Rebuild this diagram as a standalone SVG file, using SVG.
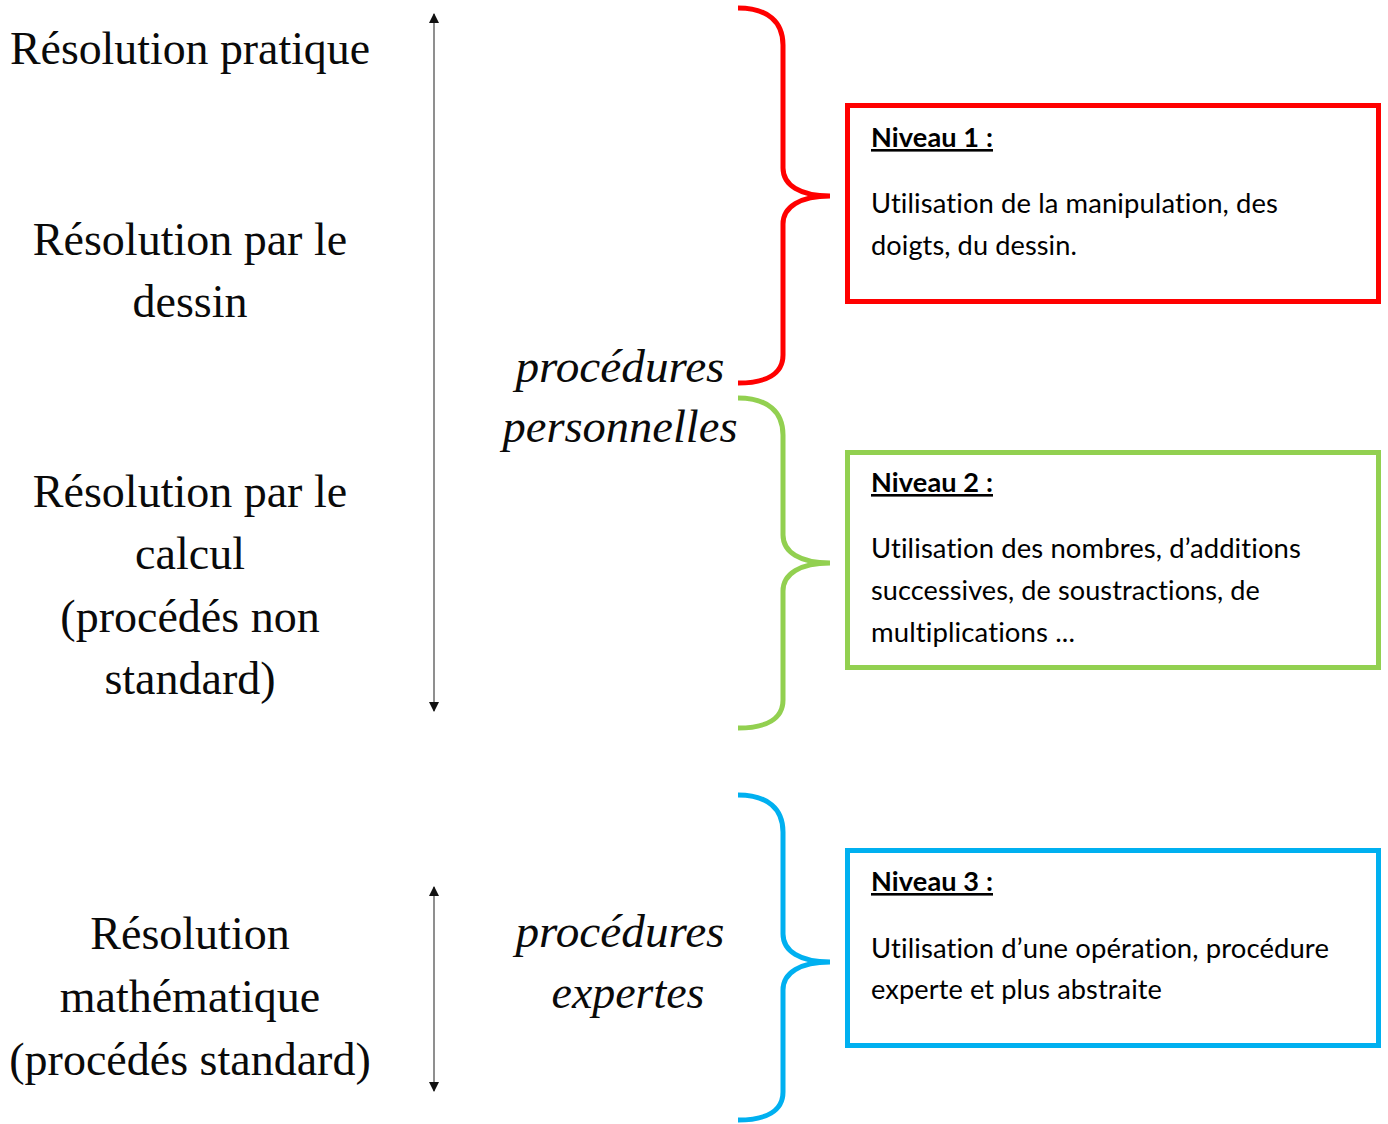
<svg xmlns="http://www.w3.org/2000/svg" width="1388" height="1124" viewBox="0 0 1388 1124">
<style>
.lbl{font-family:"Liberation Serif","Times New Roman",serif;font-size:46px;fill:#0a0a0a;text-anchor:middle}
.it{font-family:"Liberation Serif","Times New Roman",serif;font-style:italic;font-size:47px;fill:#0a0a0a;text-anchor:middle}
.hd{font-family:Lato,"Open Sans",sans-serif;font-weight:bold;font-size:26px;fill:#000;text-decoration:underline;font-variant-ligatures:none;font-feature-settings:"liga" 0,"clig" 0,"dlig" 0;letter-spacing:0.1px}
.bd{font-family:Lato,"Open Sans",sans-serif;font-size:26px;fill:#000;font-variant-ligatures:none;font-feature-settings:"liga" 0,"clig" 0,"dlig" 0;letter-spacing:0.1px}
.brace{fill:none;stroke-width:5;stroke-linecap:butt}
.box{fill:#fff;stroke-width:5}
.axis{stroke:#8f8f8f;stroke-width:2;fill:none}
</style>
<defs>
<marker id="ah" viewBox="0 0 10 10" refX="9" refY="5" markerWidth="6" markerHeight="5" orient="auto-start-reverse" markerUnits="strokeWidth">
<path d="M0,0 L10,5 L0,10 Z" fill="#111"/>
</marker>
</defs>
<rect width="1388" height="1124" fill="#fff"/>

<g id="connectors">
<line class="axis" x1="434" y1="14" x2="434" y2="711" marker-start="url(#ah)" marker-end="url(#ah)"/>
<line class="axis" x1="434" y1="887" x2="434" y2="1091" marker-start="url(#ah)" marker-end="url(#ah)"/>
<path class="brace" stroke="#ff0000" d="M738,8 C768,8 783,22 783,45 L783,168 C783,185 800,196 830,196 C800,196 783,207 783,224 L783,355 C783,374 766,383 738,383"/>
<path class="brace" stroke="#92d050" d="M738,398 C768,398 783,412 783,435 L783,535 C783,552 800,563 830,563 C800,563 783,574 783,591 L783,700 C783,719 766,728 738,728"/>
<path class="brace" stroke="#00b0f0" d="M738,795 C768,795 783,809 783,832 L783,934 C783,951 800,962 830,962 C800,962 783,973 783,990 L783,1092 C783,1111 766,1120 738,1120"/>
</g>

<g id="left-pratique"><text class="lbl" x="190" y="64" textLength="360" lengthAdjust="spacingAndGlyphs">Résolution pratique</text></g>
<g id="left-dessin">
<text class="lbl" x="190" y="255">Résolution par le</text>
<text class="lbl" x="190" y="317">dessin</text>
</g>
<g id="left-calcul">
<text class="lbl" x="190" y="507">Résolution par le</text>
<text class="lbl" x="190" y="569">calcul</text>
<text class="lbl" x="190" y="632">(procédés non</text>
<text class="lbl" x="190" y="694">standard)</text>
</g>
<g id="left-math">
<text class="lbl" x="190" y="949">Résolution</text>
<text class="lbl" x="190" y="1012">mathématique</text>
<text class="lbl" x="190" y="1075">(procédés standard)</text>
</g>

<g id="proc-perso">
<text class="it" x="620" y="382" textLength="209" lengthAdjust="spacingAndGlyphs">procédures</text>
<text class="it" x="620" y="442" textLength="235" lengthAdjust="spacingAndGlyphs">personnelles</text>
</g>
<g id="proc-expertes">
<text class="it" x="620" y="947" textLength="209" lengthAdjust="spacingAndGlyphs">procédures</text>
<text class="it" x="628" y="1008" textLength="153" lengthAdjust="spacingAndGlyphs">expertes</text>
</g>

<g id="niveau1">
<rect class="box" stroke="#ff0000" x="847.5" y="105.5" width="531" height="196"/>
<text class="hd" x="871" y="147" textLength="122" lengthAdjust="spacingAndGlyphs">Niveau 1 :</text>
<text class="bd" x="871" y="213" textLength="407" lengthAdjust="spacingAndGlyphs">Utilisation de la manipulation, des</text>
<text class="bd" x="871" y="255" textLength="206" lengthAdjust="spacingAndGlyphs">doigts, du dessin.</text>
</g>
<g id="niveau2">
<rect class="box" stroke="#92d050" x="847.5" y="452.5" width="531" height="215"/>
<text class="hd" x="871" y="492" textLength="122" lengthAdjust="spacingAndGlyphs">Niveau 2 :</text>
<text class="bd" x="871" y="558" textLength="430" lengthAdjust="spacingAndGlyphs">Utilisation des nombres, d’additions</text>
<text class="bd" x="871" y="600" textLength="389" lengthAdjust="spacingAndGlyphs">successives, de soustractions, de</text>
<text class="bd" x="871" y="642" textLength="204" lengthAdjust="spacingAndGlyphs">multiplications ...</text>
</g>
<g id="niveau3">
<rect class="box" stroke="#00b0f0" x="847.5" y="850.5" width="531" height="195"/>
<text class="hd" x="871" y="891" textLength="122" lengthAdjust="spacingAndGlyphs">Niveau 3 :</text>
<text class="bd" x="871" y="958" textLength="458" lengthAdjust="spacingAndGlyphs">Utilisation d’une opération, procédure</text>
<text class="bd" x="871" y="999" textLength="291" lengthAdjust="spacingAndGlyphs">experte et plus abstraite</text>
</g>
</svg>
